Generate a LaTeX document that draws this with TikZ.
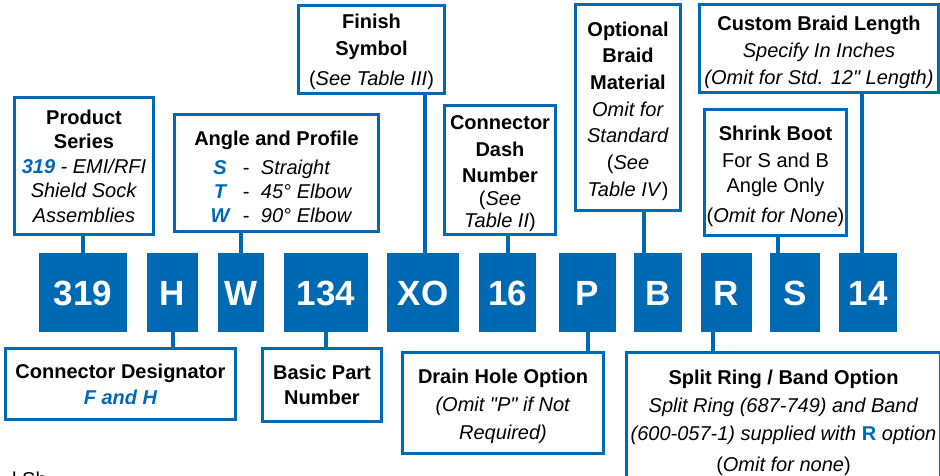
\documentclass[tikz,border=0pt]{standalone}
\usepackage{fontspec}
\setmainfont{Liberation Sans}
\newfontfamily\qfont{Liberation Sans}
\usetikzlibrary{backgrounds}
\definecolor{blu}{RGB}{0,105,180}
\newcommand\bluebi[1]{{\color{blu}\bfseries\itshape #1}}
\newcommand\dq{{\qfont\itshape"}}
\newcommand\tstrut{\rule{0pt}{21.5pt}}
\newcommand\arow[2]{\makebox[22pt]{\bluebi{#1}}\makebox[30pt]{\itshape -}\makebox[83pt][l]{\itshape #2}}
\begin{document}
\begin{tikzpicture}[x=1pt,y=-1pt,
  lbl/.style={draw=blu, line width=3pt, fill=white, inner sep=0pt, align=center, text=black},
  bx/.style args={#1/#2/#3/#4}{minimum width={#3-(#1)-3}, minimum height={#4-(#2)-3}, at={({(#1+#3)/2},{(#2+#4)/2})}},
  fs/.style={font=\fontsize{20}{#1}\selectfont},
  code/.style args={#1/#2}{fill=blu, text=white, inner sep=0pt, minimum width={#2-(#1)}, minimum height=79,
     font=\bfseries\fontsize{35}{35}\selectfont, text height=25, text depth=0pt, at={({(#1+#2)/2},292.5)}},
  conn/.style={draw=blu, line width=4pt}
]
\useasboundingbox (0,0) rectangle (940,476);

% code boxes
\node[code=39/127] (c319) {319};
\node[code=147/198] (cH) {H};
\node[code=218/264] (cW) {W};
\node[code=284/368] (c134) {134};
\node[code=387/459] (cXO) {XO};
\node[code=479/536] (c16) {16};
\node[code=559/616] (cP) {P};
\node[code=634/682] (cB) {B};
\node[code=701/752] (cR) {R};
\node[code=770/820] (cS) {S};
\node[code=839/897] (c14) {14};

% upper label boxes
\node[lbl, bx=13/96/155/236, fs=24.5] (ps)
  {\textbf{Product}\\ \textbf{Series}\\ \bluebi{319}\textit{ - EMI/RFI}\\ \textit{Shield Sock}\\ \textit{Assemblies}};
\node[lbl, bx=173/113/380/233, fs=24] (ang)
  {\tstrut\textbf{Angle and Profile}\\[5pt] \arow{S}{Straight}\\ \arow{T}{45° Elbow}\\ \arow{W}{90° Elbow}};
\node[lbl, bx=297/4/446/95, fs=27] (fin)
  {\rule{0pt}{18.5pt}\textbf{Finish}\\ \textbf{Symbol}\\[3pt] (\textit{See Table III})};
\node[lbl, bx=443/104/557/236, fs=22.5] (cdn)
  {\tstrut\textbf{Connector}\\[4pt] \textbf{Dash}\\[4pt] \textbf{Number}\\ (\textit{See}\\ \textit{Table II})};
\node[lbl, bx=574/3/682/212, fs=26.7] (opt)
  {\tstrut\textbf{Optional}\\ \textbf{Braid}\\ \textbf{Material}\\ \textit{Omit for}\\ \textit{Standard}\\ (\textit{See}\\ \textit{Table IV})};
\node[lbl, bx=698/3/940/94, fs=27] (cbl)
  {\tstrut\textbf{Custom Braid Length}\\ \textit{Specify In Inches}\\ \textit{(Omit for Std. 12\dq\ Length)}};
\node[lbl, bx=703/108/848/237, fs=25] (shb)
  {\tstrut\textbf{Shrink Boot}\\[2pt] For S and B\\ Angle Only\\[5pt] (\textit{Omit for None})};

% lower label boxes
\node[lbl, bx=4/347/237/421, fs=26] (cd)
  {\textbf{Connector Designator}\\ \bluebi{F and H}};
\node[lbl, bx=261/347/383/423, fs=25] (bpn)
  {\textbf{Basic Part}\\ \textbf{Number}};
\node[lbl, bx=401/351/605/455, fs=28] (dho)
  {\tstrut\textbf{Drain Hole Option}\\ \textit{(Omit \dq P\dq\ if Not}\\ \textit{Required)}};
\node[lbl, bx=625/351/942/487, fs=28] (srb)
  {\tstrut\textbf{Split Ring / Band Option}\\ \textit{Split Ring (687-749) and Band}\\ \textit{(600-057-1) supplied with {\color{blu}\bfseries\upshape R} option}\\[3pt] (\textit{Omit for none})};

% cut-off text at the bottom edge
\node[anchor=base west, inner sep=0pt, font=\fontsize{20}{24}\selectfont] (frag) at (12,486) {l Sh};

% connectors
\begin{pgfonlayer}{background}
\fill[white] (0,0) rectangle (940,476);
\draw[conn] (ps.south -| c319.north) -- (c319.north);
\draw[conn] (ang.south -| cW.north) -- (cW.north);
\draw[conn] (fin.south -| 425,0) -- (cXO.north -| 425,0);
\draw[conn] (cdn.south -| 508,0) -- (c16.north -| 508,0);
\draw[conn] (opt.south -| 644,0) -- (cB.north -| 644,0);
\draw[conn] (shb.south -| 778,0) -- (cS.north -| 778,0);
\draw[conn] (cbl.south -| 862,0) -- (c14.north -| 862,0);
\draw[conn] (cH.south) -- (cd.north -| cH.south);
\draw[conn] (c134.south) -- (bpn.north -| c134.south);
\draw[conn] (cP.south) -- (dho.north -| cP.south);
\draw[conn] (cR.south -| 713,0) -- (srb.north -| 713,0);
\end{pgfonlayer}
\end{tikzpicture}
\end{document}
